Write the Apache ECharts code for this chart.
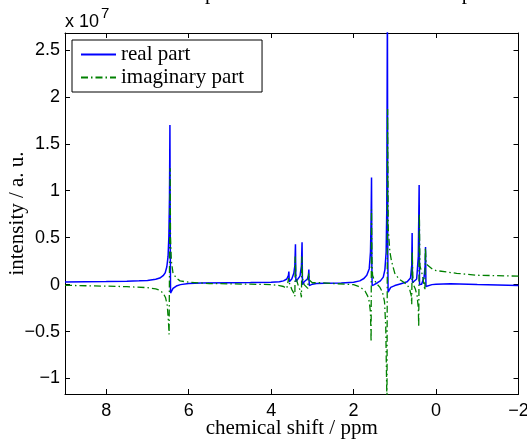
<!DOCTYPE html>
<html>
<head>
<meta charset="utf-8">
<script src="https://cdn.jsdelivr.net/npm/echarts@6/dist/echarts.min.js"></script>
<style>
html,body{margin:0;padding:0;background:#fff;}
#c{width:527px;height:439px;}
</style>
</head>
<body>
<div id="c"></div>
<script>
// chemical shift (ppm) and intensity (x 1e7)
const realPpm = [9.0, 8.5, 8.0, 7.5, 7.2, 7.0, 6.8, 6.7, 6.62, 6.57, 6.53, 6.50, 6.48, 6.465, 6.455, 6.447, 6.44, 6.42, 6.38, 6.3, 6.2, 6.0, 5.7, 5.0, 4.5, 4.0, 3.8, 3.7, 3.62, 3.58, 3.57, 3.56, 3.50, 3.45, 3.425, 3.41, 3.40, 3.38, 3.30, 3.265, 3.25, 3.24, 3.20, 3.12, 3.095, 3.085, 3.075, 3.0, 2.9, 2.7, 2.67, 2.64, 2.3, 2.0, 1.85, 1.75, 1.68, 1.62, 1.59, 1.575, 1.565, 1.557, 1.55, 1.5, 1.42, 1.35, 1.28, 1.24, 1.21, 1.195, 1.18, 1.17, 1.163, 1.14, 1.10, 1.0, 0.85, 0.7, 0.62, 0.59, 0.58, 0.572, 0.55, 0.47, 0.43, 0.41, 0.40, 0.35, 0.29, 0.265, 0.255, 0.245, 0.2, 0.1, 0.0, -0.35, -0.37, -0.39, -1.0, -2.0];
const realVal = [0.028, 0.03, 0.032, 0.036, 0.04, 0.045, 0.058, 0.07, 0.095, 0.125, 0.19, 0.30, 0.52, 0.95, 1.70, 0.5, -0.09, -0.07, -0.04, -0.015, 0.0, 0.012, 0.017, 0.02, 0.022, 0.025, 0.03, 0.04, 0.06, 0.10, 0.14, 0.03, 0.06, 0.12, 0.2, 0.43, 0.03, 0.04, 0.09, 0.2, 0.45, 0.0, 0.03, 0.06, 0.1, 0.16, -0.01, 0.005, 0.012, 0.015, 0.03, 0.015, 0.018, 0.025, 0.04, 0.065, 0.1, 0.17, 0.35, 0.7, 1.14, 0.2, -0.01, 0.0, 0.02, 0.04, 0.08, 0.16, 0.35, 0.8, 3.0, 0.3, -0.08, -0.06, -0.03, -0.01, 0.01, 0.03, 0.07, 0.2, 0.55, 0.02, 0.015, 0.06, 0.3, 1.06, 0.0, 0.005, 0.08, 0.2, 0.40, -0.02, -0.018, 0.0, 0.005, 0.008, 0.02, 0.008, 0.0, -0.01];

const imagPpm = [9.0, 8.5, 8.0, 7.5, 7.0, 6.8, 6.7, 6.62, 6.56, 6.52, 6.49, 6.475, 6.465, 6.45, 6.44, 6.42, 6.38, 6.3, 6.21, 6.0, 5.5, 5.0, 4.5, 4.0, 3.8, 3.7, 3.62, 3.58, 3.575, 3.56, 3.5, 3.45, 3.425, 3.415, 3.40, 3.35, 3.29, 3.265, 3.255, 3.24, 3.2, 3.11, 3.09, 3.08, 3.0, 2.8, 2.5, 2.2, 2.0, 1.9, 1.8, 1.72, 1.66, 1.62, 1.59, 1.575, 1.566, 1.555, 1.54, 1.5, 1.42, 1.36, 1.30, 1.25, 1.22, 1.19, 1.175, 1.16, 1.12, 1.08, 1.0, 0.9, 0.8, 0.7, 0.64, 0.6, 0.59, 0.578, 0.565, 0.55, 0.5, 0.46, 0.43, 0.42, 0.405, 0.39, 0.33, 0.27, 0.258, 0.24, 0.2, 0.1, 0.0, -0.5, -1.0, -2.0];
const imagVal = [-0.007, -0.012, -0.016, -0.022, -0.032, -0.045, -0.06, -0.09, -0.14, -0.22, -0.4, -0.53, 0.2, 1.24, 0.5, 0.25, 0.12, 0.07, 0.04, 0.025, 0.012, 0.008, 0.005, 0.0, -0.01, -0.02, -0.04, -0.06, 0.07, 0.02, -0.05, -0.09, -0.125, 0.3, 0.08, 0.0, -0.07, -0.135, 0.3, 0.07, 0.0, -0.04, 0.12, 0.05, 0.02, 0.02, 0.012, 0.005, 0.0, -0.015, -0.04, -0.07, -0.12, -0.18, -0.3, -0.61, 0.8, 0.25, 0.1, 0.05, 0.0, -0.03, -0.08, -0.18, -0.45, -1.3, 1.87, 0.6, 0.35, 0.25, 0.12, 0.06, 0.03, 0.0, -0.05, -0.12, -0.21, 0.35, 0.1, 0.0, -0.05, -0.12, -0.25, -0.45, 0.75, 0.2, 0.1, -0.06, 0.39, 0.22, 0.2, 0.17, 0.15, 0.12, 0.1, 0.09];

const xTicks = {min: -2, max: 9, interval: 2};
const yRange = {min: -1.165, max: 2.68};
const legendNames = ['real part', 'imaginary part'];

const serif = '"Liberation Serif", "Times New Roman", serif';
const sans = '"Liberation Sans", Arial, sans-serif';
const minusFmt = v => String(v).replace('-', '\u2212');

const chart = echarts.init(document.getElementById('c'), null, {renderer: 'canvas'});
const axisCommon = () => ({
  axisLine: {show: true, onZero: false, lineStyle: {color: '#000', width: 1}},
  axisTick: {show: true, inside: true, length: 5, lineStyle: {color: '#000', width: 1}},
  splitLine: {show: false},
  nameMoveOverlap: false
});
chart.setOption({
  animation: false,
  backgroundColor: '#fff',
  grid: {left: 65, right: 8.5, top: 33, bottom: 45, containLabel: false, outerBoundsMode: 'none'},
  graphic: [
    {type: 'text', x: 292, y: -7, style: {text: 'Ethanol: the spectrum after FFT and its real part', font: '21px ' + serif, fill: '#000', align: 'center', verticalAlign: 'middle'}},
    {type: 'text', x: 65, y: 22, style: {text: 'x 10', font: '18px ' + sans, fill: '#000', align: 'left', verticalAlign: 'middle'}},
    {type: 'text', x: 101, y: 13.5, style: {text: '7', font: '15px ' + sans, fill: '#000', align: 'left', verticalAlign: 'middle'}}
  ],
  legend: {
    orient: 'vertical', left: 72, top: 40,
    data: legendNames,
    itemWidth: 35, itemHeight: 14, itemGap: 2,
    padding: [4, 18, 4, 8],
    borderColor: '#000', borderWidth: 1, backgroundColor: '#fff',
    itemStyle: {opacity: 0},
    textStyle: {fontFamily: serif, fontSize: 21, color: '#000'}
  },
  xAxis: [
    Object.assign(axisCommon(), {
      type: 'value', position: 'bottom', inverse: true,
      min: xTicks.min, max: xTicks.max, interval: xTicks.interval,
      name: 'chemical shift / ppm', nameLocation: 'middle', nameGap: 24,
      nameTextStyle: {fontFamily: serif, fontSize: 21, color: '#000'},
      axisLabel: {fontFamily: sans, fontSize: 18, color: '#000', margin: 8, showMaxLabel: false, formatter: minusFmt}
    }),
    Object.assign(axisCommon(), {
      type: 'value', position: 'top', inverse: true,
      min: xTicks.min, max: xTicks.max, interval: xTicks.interval,
      axisLabel: {show: false}
    })
  ],
  yAxis: [
    Object.assign(axisCommon(), {
      type: 'value', position: 'left',
      min: yRange.min, max: yRange.max, splitNumber: 8,
      name: 'intensity / a. u.', nameLocation: 'middle', nameGap: 37,
      nameTextStyle: {fontFamily: serif, fontSize: 21, color: '#000'},
      axisLabel: {fontFamily: sans, fontSize: 18, color: '#000', margin: 5, showMinLabel: false, showMaxLabel: false, formatter: minusFmt}
    }),
    Object.assign(axisCommon(), {
      type: 'value', position: 'right',
      min: yRange.min, max: yRange.max, splitNumber: 8,
      axisLabel: {show: false}
    })
  ],
  series: [
    {
      name: legendNames[0], type: 'line', xAxisIndex: 0, yAxisIndex: 0,
      data: realPpm.map((p, i) => [p, realVal[i]]),
      showSymbol: false, symbol: 'none', clip: true, z: 2,
      lineStyle: {color: '#0000ff', width: 1.5}, itemStyle: {color: '#0000ff'}
    },
    {
      name: legendNames[1], type: 'line', xAxisIndex: 0, yAxisIndex: 0,
      data: imagPpm.map((p, i) => [p, imagVal[i]]),
      showSymbol: false, symbol: 'none', clip: true, z: 3,
      lineStyle: {color: '#008000', width: 1.3, type: [7, 3, 1.5, 3]}, itemStyle: {color: '#008000'}
    }
  ]
});
</script>
</body>
</html>
